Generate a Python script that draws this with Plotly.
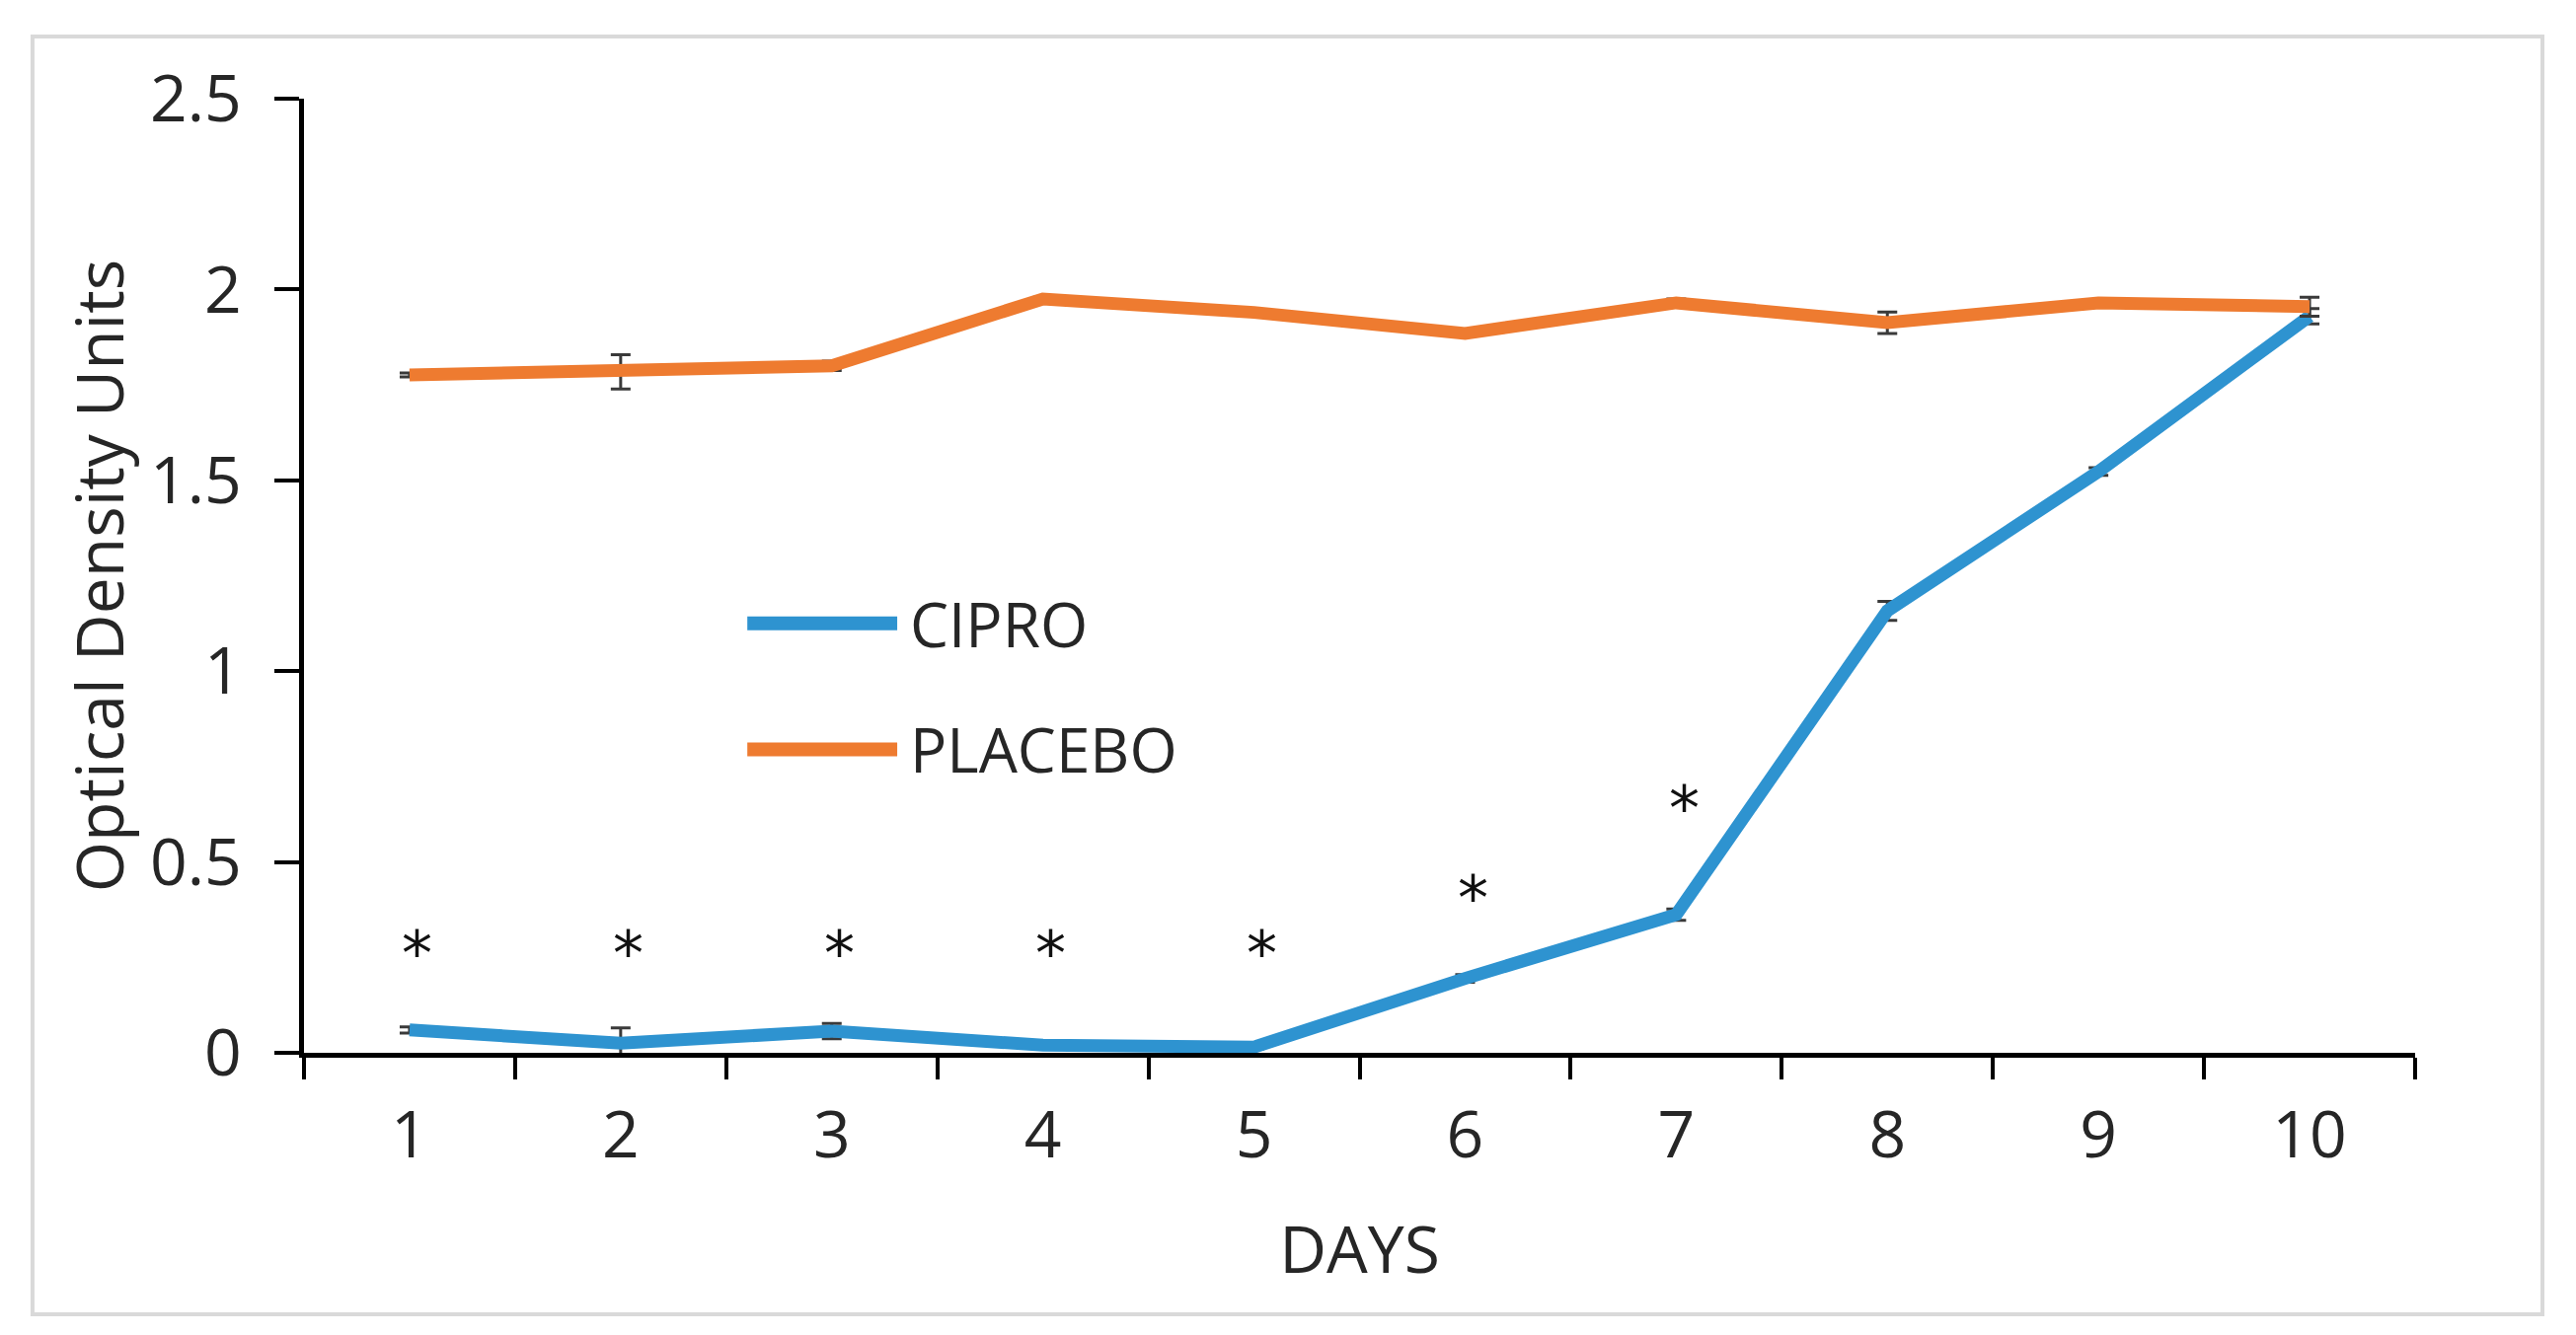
import plotly.graph_objects as go

days = ["1", "2", "3", "4", "5", "6", "7", "8", "9", "10"]
cipro = [0.06, 0.025, 0.057, 0.02, 0.015, 0.195, 0.362, 1.158, 1.523, 1.93]
cipro_err = [0.008, 0.04, 0.02, 0.005, 0.005, 0.01, 0.015, 0.025, 0.01, 0.02]
placebo = [1.776, 1.784, 1.80, 1.975, 1.94, 1.885, 1.965, 1.913, 1.965, 1.955]
placebo_err = [0.005, 0.045, 0.012, 0.005, 0.005, 0.005, 0.01, 0.028, 0.005, 0.025]
star_days = ["1", "2", "3", "4", "5", "6", "7"]
star_y = [0.30, 0.30, 0.30, 0.30, 0.30, 0.445, 0.68]
y_ticks = [0, 0.5, 1, 1.5, 2, 2.5]
y_labels = ["0", "0.5", "1", "1.5", "2", "2.5"]

BLUE = "#2E93D0"
ORANGE = "#EE7B30"
FONT = "Open Sans"
TXT = "#262626"

fig = go.Figure()
fig.add_trace(go.Scatter(
    x=days, y=cipro, mode="lines", name="CIPRO",
    line=dict(color=BLUE, width=13),
    error_y=dict(type="data", array=cipro_err, color="#3A3A3A", thickness=3, width=10),
    showlegend=False))
fig.add_trace(go.Scatter(
    x=days, y=placebo, mode="lines", name="PLACEBO",
    line=dict(color=ORANGE, width=13),
    error_y=dict(type="data", array=placebo_err, color="#3A3A3A", thickness=3, width=10),
    showlegend=False))

annotations = []
# significance asterisks (category index taken from the day list)
for d, yv in zip(star_days, star_y):
    annotations.append(dict(x=days.index(d), y=yv, xref="x", yref="y", text="*", showarrow=False,
                            xshift=8, yshift=-16,
                            font=dict(family="DejaVu Sans", size=62, color="#111111")))

# manual legend (line samples + labels)
shapes = []
legend_items = [("CIPRO", BLUE, 0.450), ("PLACEBO", ORANGE, 0.318)]
for label, col, yp in legend_items:
    shapes.append(dict(type="line", xref="paper", yref="paper", x0=0.210, x1=0.281, y0=yp, y1=yp,
                       line=dict(color=col, width=14)))
    annotations.append(dict(x=0.286, y=yp, xref="paper", yref="paper", text=label, showarrow=False,
                            xanchor="left", yanchor="middle",
                            font=dict(family=FONT, size=62, color=TXT)))

# outer chart border
shapes.append(dict(type="rect", xref="paper", yref="paper", x0=-0.1286, x1=1.0603, y0=-0.274, y1=1.0651,
                   line=dict(color="#D9D9D9", width=4), layer="below"))

fig.update_layout(
    width=2610, height=1353,
    margin=dict(l=300, r=171, t=92, b=294),
    paper_bgcolor="white", plot_bgcolor="white",
    font=dict(family=FONT, size=66, color=TXT),
    annotations=annotations, shapes=shapes,
    xaxis=dict(type="category", tickson="boundaries", ticks="outside", ticklen=22, tickwidth=4,
               tickcolor="black", showline=True, linecolor="black", linewidth=5,
               showgrid=False, zeroline=False, ticklabelstandoff=22,
               tickfont=dict(size=66),
               title=dict(text="DAYS", standoff=54, font=dict(size=66))),
    yaxis=dict(range=[0, 2.5], tickvals=y_ticks, ticktext=y_labels, ticks="outside", ticklen=25,
               tickwidth=4, tickcolor="black", showline=True, linecolor="black", linewidth=5,
               showgrid=False, zeroline=False, ticklabelstandoff=20,
               tickfont=dict(size=66),
               title=dict(text="Optical Density Units", standoff=6, font=dict(size=66))),
)

fig.write_html("out.html")
